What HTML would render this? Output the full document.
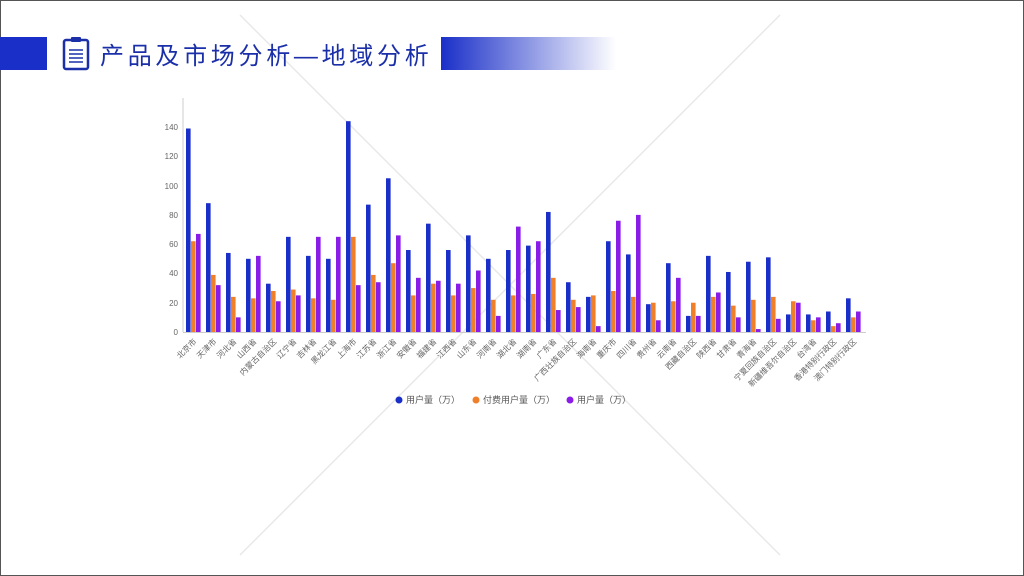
<!DOCTYPE html>
<html><head><meta charset="utf-8"><style>
body{margin:0;width:1024px;height:576px;overflow:hidden;background:#fff;font-family:"Liberation Sans","Noto Sans CJK SC",sans-serif}
#slide{position:absolute;left:0;top:0;width:1022px;height:574px;border:1px solid #555;background:#fff}
</style></head><body><div id="slide"></div>
<svg width="1024" height="576" style="position:absolute;left:0;top:0" xmlns="http://www.w3.org/2000/svg">
<line x1="240" y1="15" x2="780" y2="555" stroke="#e8e8e8" stroke-width="1.5"/>
<line x1="780" y1="15" x2="240" y2="555" stroke="#e8e8e8" stroke-width="1.5"/>
<defs><linearGradient id="g" x1="0" x2="1"><stop offset="0" stop-color="#1a2fc8"/><stop offset="1" stop-color="#1a2fc8" stop-opacity="0"/></linearGradient></defs>
<rect x="0" y="37" width="47" height="33" fill="#1a2fc8"/>
<rect x="441" y="37" width="175" height="33" fill="url(#g)"/>
<rect x="64" y="40" width="24" height="29" rx="2" fill="none" stroke="#1a2fa8" stroke-width="2.5"/>
<rect x="71" y="37" width="10" height="5" rx="1" fill="#1a2fa8"/>
<g stroke="#1a2fa8" stroke-width="1.5"><line x1="69" y1="50" x2="83" y2="50"/><line x1="69" y1="54" x2="83" y2="54"/><line x1="69" y1="58" x2="83" y2="58"/><line x1="69" y1="62" x2="83" y2="62"/></g>
<text x="100" y="64" font-size="24" fill="#1a2fa8" letter-spacing="3.7" font-family="Liberation Sans, Noto Sans CJK SC, sans-serif">产品及市场分析—地域分析</text>
<line x1="183" y1="98" x2="183" y2="332" stroke="#ccc"/>
<line x1="183" y1="332.5" x2="866" y2="332.5" stroke="#ccc"/>
<g font-size="8" fill="#666" text-anchor="end">
<text x="178" y="335">0</text><text x="178" y="306">20</text><text x="178" y="276">40</text><text x="178" y="247">60</text><text x="178" y="218">80</text><text x="178" y="189">100</text><text x="178" y="159">120</text><text x="178" y="130">140</text>
</g>
<g id="bars"></g>
<g font-size="9" fill="#555">
<circle cx="399" cy="400" r="3.5" fill="#1a2fc8"/><text x="406" y="403">用户量（万）</text>
<circle cx="476" cy="400" r="3.5" fill="#f07f2a"/><text x="483" y="403">付费用户量（万）</text>
<circle cx="570" cy="400" r="3.5" fill="#8a1ce8"/><text x="577" y="403">用户量（万）</text>
</g>
</svg>
<script>
var d=[["北京市",139,62,67],["天津市",88,39,32],["河北省",54,24,10],["山西省",50,23,52],["内蒙古自治区",33,28,21],["辽宁省",65,29,25],["吉林省",52,23,65],["黑龙江省",50,22,65],["上海市",144,65,32],["江苏省",87,39,34],["浙江省",105,47,66],["安徽省",56,25,37],["福建省",74,33,35],["江西省",56,25,33],["山东省",66,30,42],["河南省",50,22,11],["湖北省",56,25,72],["湖南省",59,26,62],["广东省",82,37,15],["广西壮族自治区",34,22,17],["海南省",24,25,4],["重庆市",62,28,76],["四川省",53,24,80],["贵州省",19,20,8],["云南省",47,21,37],["西藏自治区",11,20,11],["陕西省",52,24,27],["甘肃省",41,18,10],["青海省",48,22,2],["宁夏回族自治区",51,24,9],["新疆维吾尔自治区",12,21,20],["台湾省",12,8,10],["香港特别行政区",14,4,6],["澳门特别行政区",23,10,14]];
var c=["#1a2fc8","#f07f2a","#8a1ce8"],s="",k=1.464;
d.forEach(function(r,i){var x=186+20*i;for(var j=0;j<3;j++){var h=r[j+1]*k;s+='<rect x="'+(x+5*j)+'" y="'+(332-h)+'" width="4.6" height="'+h+'" fill="'+c[j]+'"/>';}
s+='<text x="'+(x+11)+'" y="342" font-size="8" fill="#666" text-anchor="end" transform="rotate(-45 '+(x+11)+' 342)">'+r[0]+'</text>';});
document.getElementById("bars").innerHTML=s;
</script>
</body></html>
